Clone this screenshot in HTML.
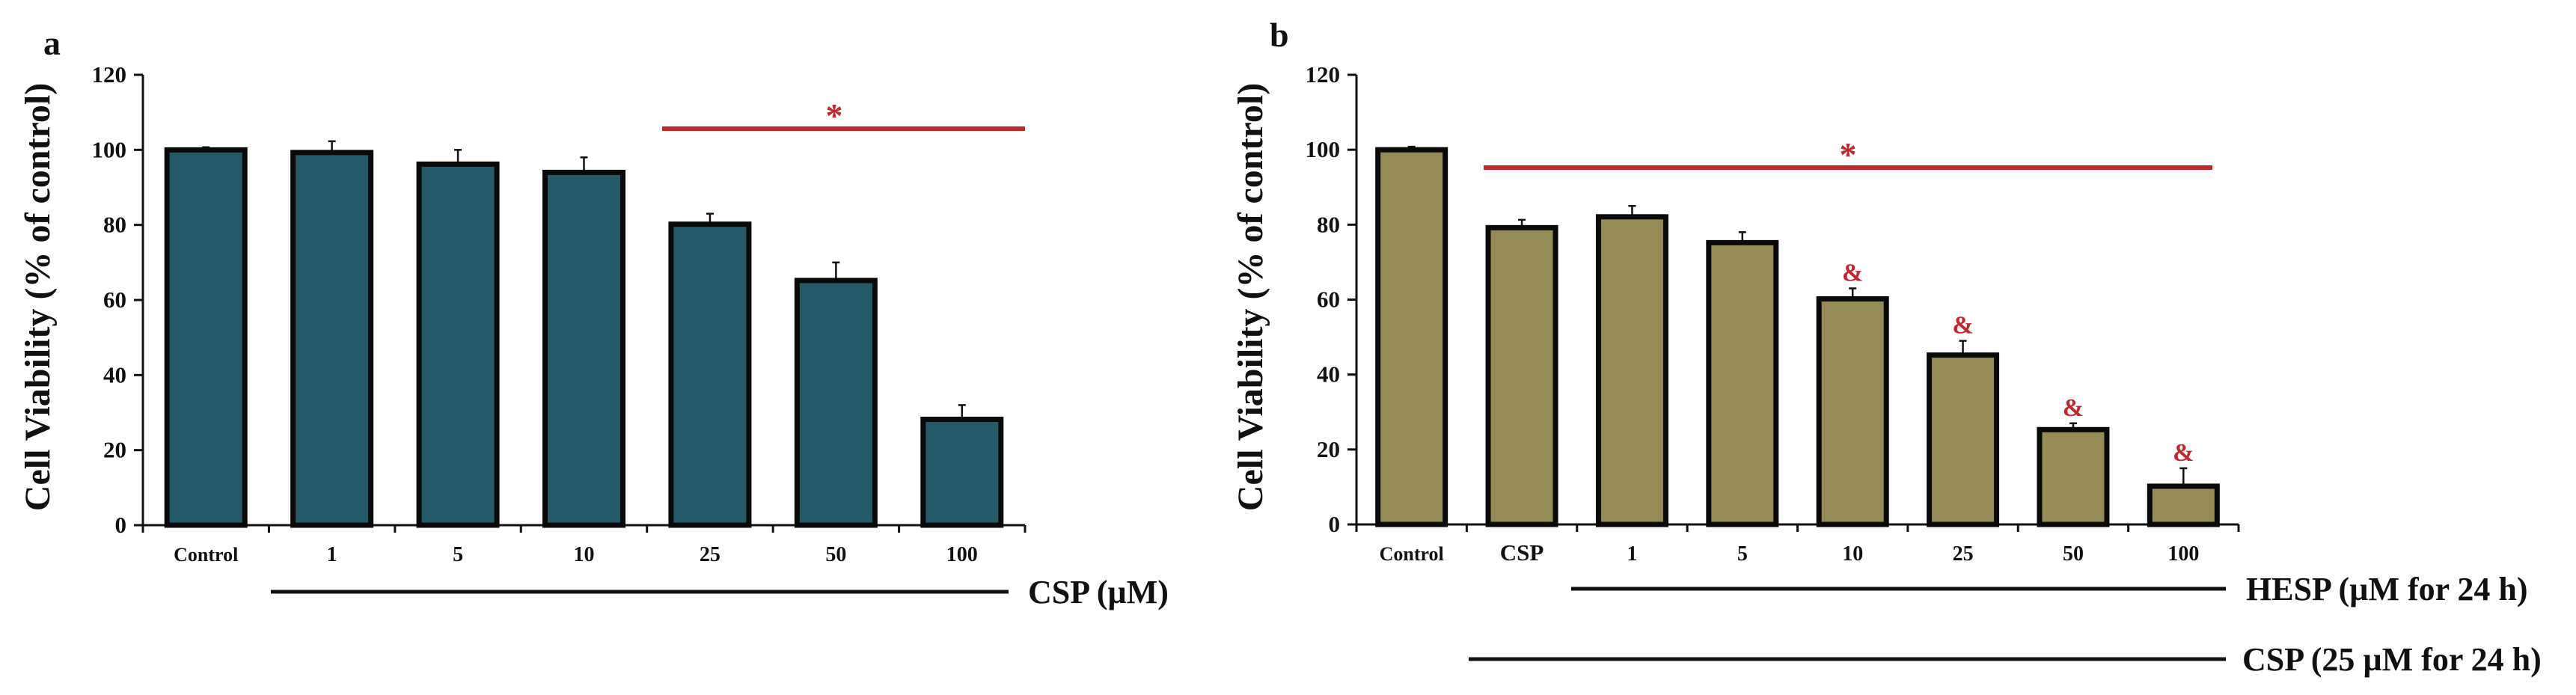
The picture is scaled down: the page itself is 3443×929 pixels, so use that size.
<!DOCTYPE html>
<html><head><meta charset="utf-8"><style>
html,body{margin:0;padding:0;background:#fff;width:3443px;height:929px;overflow:hidden}
svg{display:block}
text{font-family:"Liberation Serif",serif;font-weight:bold;fill:#111}
</style></head><body>
<svg id="fig" width="3443" height="929" viewBox="0 0 3443 929" xmlns="http://www.w3.org/2000/svg">
<g id="ga"></g>
<g id="gb"></g>
</svg>
<script>
const catsA = ["Control","1","5","10","25","50","100"];
const valsA = [100,99.3,96.2,94,80.2,65.2,28.2];
const errA = [100.7,102.3,100,98,83,70,32];
const catsB = ["Control","CSP","1","5","10","25","50","100"];
const valsB = [100,79.2,82.1,75.2,60.2,45.2,25.3,10.2];
const errB = [100.8,81.3,85,78,63,49,27,15];
const ampB = [false,false,false,false,true,true,true,true];
const yTicks = [0,20,40,60,80,100,120];

const NS="http://www.w3.org/2000/svg";
function mk(parent,tag,attrs,name,txt){
  const e=document.createElementNS(NS,tag);
  for(const k in attrs) e.setAttribute(k,attrs[k]);
  
  
  if(txt!==undefined) e.textContent=txt;
  parent.appendChild(e); return e;
}
function chart(g,cfg){
  const y=v=>cfg.y0-(v/120)*(cfg.y0-cfg.y120);
  const step=(cfg.x1-cfg.x0)/cfg.cats.length;
  const xc=i=>cfg.x0+step*(i+0.5);
  // axes
  mk(g,'line',{x1:cfg.x0,y1:cfg.y120,x2:cfg.x0,y2:cfg.y0,stroke:'#111','stroke-width':3},'y-axis');
  mk(g,'line',{x1:cfg.x0-12,y1:cfg.y0,x2:cfg.x1,y2:cfg.y0,stroke:'#111','stroke-width':3},'x-axis');
  yTicks.forEach(t=>{
    mk(g,'line',{x1:cfg.x0-12,y1:y(t),x2:cfg.x0,y2:y(t),stroke:'#111','stroke-width':3},'y-tick');
    mk(g,'text',{x:cfg.x0-22,y:y(t)+10,'text-anchor':'end','font-size':31},'y-tick-label',String(t));
  });
  for(let i=0;i<=cfg.cats.length;i++){
    mk(g,'line',{x1:cfg.x0+step*i,y1:cfg.y0,x2:cfg.x0+step*i,y2:cfg.y0+10,stroke:'#111','stroke-width':3},'x-tick');
  }
  cfg.cats.forEach((c,i)=>{
    // error bar
    mk(g,'line',{x1:xc(i),y1:y(cfg.err[i]),x2:xc(i),y2:y(cfg.vals[i]),stroke:'#111','stroke-width':2.5},'error-bar');
    mk(g,'line',{x1:xc(i)-5,y1:y(cfg.err[i]),x2:xc(i)+5,y2:y(cfg.err[i]),stroke:'#111','stroke-width':2.5},'error-cap');
    mk(g,'rect',{x:xc(i)-cfg.bw/2,y:y(cfg.vals[i]),width:cfg.bw,height:cfg.y0-y(cfg.vals[i]),fill:cfg.fill,stroke:'#0a0a0a','stroke-width':7},'bar-'+c.toLowerCase());
    mk(g,'text',{x:xc(i),y:cfg.y0+48,'text-anchor':'middle','font-size':c==='Control'?26:(c==='CSP'?31:28)},'x-tick-label',c);
    if(cfg.amp && cfg.amp[i]) mk(g,'text',{x:xc(i),y:y(cfg.err[i])-10,'text-anchor':'middle','font-size':34,style:'fill:#c0282d'},'significance-ampersand','&');
  });
}
const ga=document.getElementById('ga'), gb=document.getElementById('gb');
chart(ga,{cats:catsA,vals:valsA,err:errA,x0:191,x1:1370,y0:702,y120:100,bw:104,fill:'#245a68'});
chart(gb,{cats:catsB,vals:valsB,err:errB,amp:ampB,x0:1813,x1:2992,y0:701,y120:100,bw:90,fill:'#968a55'});
</script>
<script>
(function(){
const ga=document.getElementById('ga'), gb=document.getElementById('gb');
const NS="http://www.w3.org/2000/svg";
function add(p,tag,a,name,t){const e=document.createElementNS(NS,tag);for(const k in a)e.setAttribute(k,a[k]);


if(t!==undefined)e.textContent=t;p.appendChild(e);return e;}
add(ga,'text',{x:58,y:73,'font-size':46},'panel-label-a','a');
add(gb,'text',{x:1697,y:62,'font-size':46},'panel-label-b','b');
add(ga,'text',{x:0,y:0,'font-size':48,'text-anchor':'middle',transform:'translate(66,397) rotate(-90)'},'y-axis-title','Cell Viability (% of control)');
add(gb,'text',{x:0,y:0,'font-size':48,'text-anchor':'middle',transform:'translate(1687,397) rotate(-90)'},'y-axis-title','Cell Viability (% of control)');
add(ga,'line',{x1:885,y1:172,x2:1370,y2:172,stroke:'#c0282d','stroke-width':6},'significance-line');
add(ga,'text',{x:1115,y:170,'text-anchor':'middle','font-size':46,style:'fill:#c0282d'},'significance-star','*');
add(gb,'line',{x1:1983,y1:224,x2:2957,y2:224,stroke:'#c0282d','stroke-width':6},'significance-line');
add(gb,'text',{x:2470,y:222,'text-anchor':'middle','font-size':46,style:'fill:#c0282d'},'significance-star','*');
add(ga,'line',{x1:362,y1:791,x2:1348,y2:791,stroke:'#111','stroke-width':5},'csp-treatment-line');
add(ga,'text',{x:1374,y:806,'font-size':44},'csp-label','CSP (µM)');
add(gb,'line',{x1:2100,y1:787,x2:2975,y2:787,stroke:'#111','stroke-width':5},'hesp-treatment-line');
add(gb,'text',{x:3002,y:802,'font-size':44},'hesp-label','HESP (µM for 24 h)');
add(gb,'line',{x1:1963,y1:881,x2:2975,y2:881,stroke:'#111','stroke-width':5},'csp-treatment-line');
add(gb,'text',{x:2997,y:896,'font-size':44},'csp-label','CSP (25 µM for 24 h)');
})();
</script>
</body></html>
